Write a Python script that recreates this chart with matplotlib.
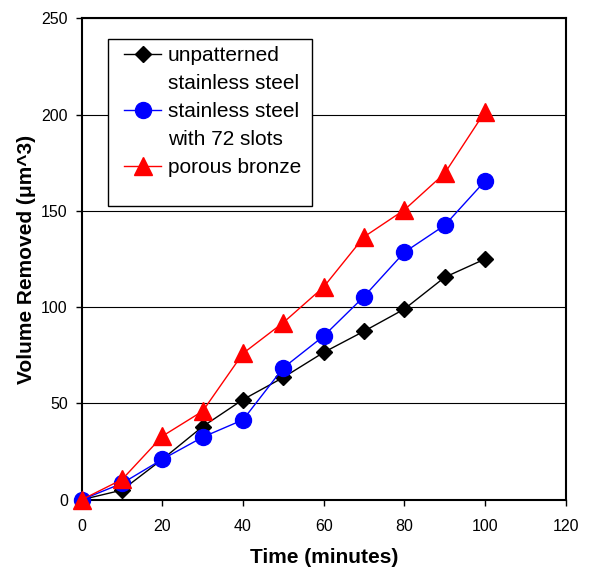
import matplotlib
matplotlib.use("Agg")
import matplotlib.pyplot as plt
from matplotlib.patches import Rectangle
from matplotlib.lines import Line2D

plt.rcParams['font.family'] = ['Liberation Sans', 'DejaVu Sans']

# data
time_min = [0, 10, 20, 30, 40, 50, 60, 70, 80, 90, 100]
unpatterned = [0, 5, 21, 38, 52, 63.5, 76.5, 87.5, 99, 115.5, 125]
slotted = [0, 8.5, 21, 32.5, 41.5, 68.5, 85, 105.5, 128.5, 142.5, 165.5]
bronze = [0, 10.5, 33, 46, 76, 92, 110.5, 136.5, 150.5, 169.5, 201.5]

labels = [['unpatterned', 'stainless steel'], ['stainless steel', 'with 72 slots'], ['porous bronze']]
x_ticks = [0, 20, 40, 60, 80, 100, 120]
y_ticks = [0, 50, 100, 150, 200, 250]

fig = plt.figure(figsize=(6.03, 5.70), dpi=100)
ax = fig.add_axes([0.1355, 0.1233, 0.8026, 0.8446])

l1, = ax.plot(time_min, unpatterned, color='black', lw=1, marker='D', ms=8.5,
              mfc='black', mec='black', clip_on=False, zorder=4)
l2, = ax.plot(time_min, slotted, color='blue', lw=1, marker='o', ms=11.5,
              mfc='blue', mec='blue', clip_on=False, zorder=5)
l3, = ax.plot(time_min, bronze, color='red', lw=1, marker='^', ms=12.5,
              mfc='red', mec='red', clip_on=False, zorder=6)

ax.set_xlim(0, 120)
ax.set_ylim(0, 250)
ax.set_xticks(x_ticks)
ax.set_yticks(y_ticks)
ax.tick_params(direction='out', length=4, width=1, labelsize=11.5)
ax.tick_params(axis='x', pad=10)
ax.tick_params(axis='y', pad=6)

ax.grid(True, axis='y', color='black', lw=0.8)
ax.set_axisbelow(True)
for s in ax.spines.values():
    s.set_linewidth(1.5)
    s.set_color('black')

ax.set_xlabel('Time (minutes)', fontsize=15, fontweight='bold', labelpad=10)
ax.set_ylabel('Volume Removed (\u03bcm^3)', fontsize=15, fontweight='bold', labelpad=4)

# legend box (Excel style, extra blank space at the bottom)
box = Rectangle((0.055, 0.61), 0.421, 0.348, transform=ax.transAxes,
                facecolor='white', edgecolor='black', lw=1, zorder=3)
ax.add_patch(box)

# one legend row per text line, handle only on the first line of each entry
blank = Line2D([], [], linestyle='none', marker='none')
handles, texts = [], []
for line, lab in zip([l1, l2, l3], labels):
    handles.append(line)
    texts.append(lab[0])
    for extra in lab[1:]:
        handles.append(blank)
        texts.append(extra)

leg = ax.legend(handles, texts, loc='upper left', bbox_to_anchor=(0.072, 0.958),
                frameon=False, fontsize=15, handlelength=1.8, handletextpad=0.3,
                borderpad=0.35, labelspacing=0.44, borderaxespad=0)
leg.set_zorder(7)

fig.savefig('out.png', dpi=100)
